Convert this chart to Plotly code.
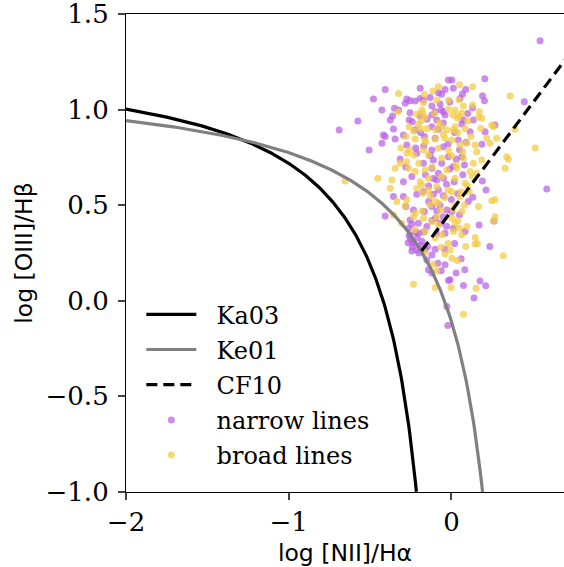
import numpy as np
import plotly.graph_objects as go

# ---------------- data ----------------
narrow_x = [0.545, 0.205, 0.448, 0.586, 0.236,
            0.029, 0.082, 0.176, 0.074, 0.211, 0.139, -0.008,
            -0.266, -0.243, -0.213, -0.145, -0.120, -0.100, -0.151, -0.083, -0.039, -0.141, -0.120, -0.063, -0.018, -0.028, -0.022,
            -0.690, -0.575, -0.479, -0.407, -0.427, -0.356, -0.376, -0.362, -0.350, -0.325, -0.284, -0.274, -0.254, -0.223, -0.192,
            -0.192, -0.254, -0.260, -0.240, -0.172, -0.131, -0.120, -0.080, -0.039, -0.018, -0.069, -0.063, -0.100, -0.049, -0.120,
            -0.090, -0.039, -0.080, -0.223, -0.295, -0.418, -0.192, -0.120,
            0.003, 0.012, 0.088, 0.068, 0.053, 0.191, 0.203, 0.074, 0.135, 0.064, 0.115, 0.207, 0.268,
            -0.506, -0.427, -0.346, -0.407, -0.274, -0.166, -0.315, -0.213, -0.120, -0.111, -0.172, -0.049, -0.018, -0.120, -0.080,
            -0.243, -0.295, -0.090, -0.049, -0.356, -0.295, -0.213, -0.172, -0.111, -0.049, -0.280, -0.233, -0.407, -0.166, -0.120,
            -0.254, -0.243, -0.203, -0.151, -0.100, -0.069, -0.028, -0.090, -0.039, -0.264, -0.203, -0.254,
            0.213, 0.190, 0.131, 0.104, 0.262, 0.170, 0.084, 0.043, 0.187, 0.064, 0.012, 0.017, 0.003, 0.012,
            -0.25, -0.23, -0.21, -0.19, -0.24, -0.18, -0.22, -0.20, -0.16, -0.26,
            -0.15, -0.05, 0.02, -0.10, -0.02, 0.05, -0.13, -0.06, 0.03, -0.16, -0.03, 0.07, -0.08, 0.00, -0.14,
            0.05, -0.05, -0.12, -0.17, 0.10, -0.01, 0.13, -0.22, -0.28, -0.19, 0.09, -0.07, 0.02, -0.04, 0.06,
            -0.11, -0.01, -0.17, 0.04, -0.09, -0.24, -0.03, 0.08, -0.14, -0.06]
narrow_y = [1.36, 1.162, 1.042, 0.585, 0.284,
            0.146, 0.163, 0.104, 0.080, 0.078, 0.015, 0.110,
            0.303, 0.261, 0.266, 0.284, 0.240, 0.270, 0.214, 0.197, 0.188, 0.162, 0.145, 0.157, 0.106, -0.030, -0.129,
            0.894, 0.941, 1.056, 1.106, 0.998, 0.899, 0.946, 0.967, 1.007, 0.998, 1.033, 1.056, 1.047, 1.045, 1.112,
            1.059, 0.984, 0.946, 0.937, 1.050, 1.063, 1.019, 1.089, 1.106, 1.155, 1.030, 0.998, 0.989, 0.989, 0.911,
            0.946, 0.972, 0.897, 0.894, 0.867, 0.867, 0.967, 0.972,
            1.155, 1.112, 1.106, 1.082, 1.059, 1.073, 1.047, 0.946, 0.946, 0.925, 0.885, 0.885, 0.920,
            0.789, 0.824, 0.847, 0.859, 0.815, 0.859, 0.742, 0.772, 0.789, 0.737, 0.720, 0.806, 0.754, 0.693, 0.667,
            0.650, 0.623, 0.632, 0.641, 0.545, 0.545, 0.558, 0.571, 0.558, 0.550, 0.493, 0.475, 0.444, 0.467, 0.493,
            0.423, 0.401, 0.406, 0.388, 0.432, 0.406, 0.475, 0.353, 0.353, 0.380, 0.353, 0.345,
            0.580, 0.627, 0.542, 0.519, 0.418, 0.397, 0.362, 0.841, 0.819, 0.754, 0.702, 0.623, 0.467, 0.380,
            0.32, 0.30, 0.33, 0.29, 0.28, 0.31, 0.36, 0.25, 0.27, 0.34,
            0.95, 0.93, 0.88, 0.85, 0.82, 0.79, 0.76, 0.72, 0.74, 0.66, 0.61, 0.66, 0.58, 0.53, 0.52,
            0.45, 0.44, 0.42, 0.36, 0.98, 1.04, 1.01, 0.80, 0.70, 0.88, 0.83, 0.50, 0.30, 0.27, 0.22,
            0.64, 0.69, 0.81, 0.56, 0.47, 0.31, 0.39, 0.71, 0.60, 1.08]

broad_x = [0.361, 0.515, 0.340, 0.350, 0.330, 0.248, 0.268, 0.166, 0.268, 0.258, 0.095, 0.146,
           0.088, 0.146, 0.160, 0.319, 0.003, 0.037, -0.008, 0.152, -0.002, 0.074,
           -0.233, -0.100, -0.111, -0.090, -0.039, -0.063, -0.162,
           -0.653, -0.452,
           -0.325, -0.329, -0.166, -0.114, -0.090, -0.172, -0.182, -0.178, -0.213, -0.162, -0.186, -0.203, -0.192, -0.233,
           -0.104, -0.076, -0.096, -0.059, -0.018, -0.018, -0.028,
           0.131, 0.047, 0.131, 0.074, 0.023, 0.009, 0.043, 0.064, 0.172, 0.166, 0.187, 0.037, 0.023, 0.084, 0.181, 0.248,
           0.258, 0.391, 0.012,
           -0.280, -0.223, -0.162, -0.100, -0.039, -0.260, -0.274, -0.233, -0.172, -0.141, -0.080, -0.059, -0.018, -0.315,
           -0.346, -0.274, -0.223, -0.162, -0.264, -0.192, -0.182, -0.141, -0.028, -0.366, -0.376, -0.335, -0.274, -0.284,
           -0.213, -0.178, -0.141, -0.090, -0.100, -0.131, -0.080, -0.063, -0.356, -0.223, -0.172, -0.120, -0.233, -0.080,
           -0.223, -0.162, -0.100, -0.059, -0.305,
           0.003, 0.053, 0.095, 0.146, 0.217, 0.279, 0.238, 0.156, 0.187, 0.135, 0.074, 0.033, 0.115, 0.023, 0.084, 0.156,
           0.003, 0.053, 0.023, 0.064, 0.003, 0.023, 0.012, 0.064,
           0.13, 0.10, 0.06, 0.08, 0.04, -0.02, 0.05,
           -0.05, 0.00, -0.12, -0.06, 0.04, -0.15, 0.10, -0.08, 0.05, -0.26, -0.31, -0.20, 0.12, -0.02, -0.18,
           -0.04, 0.07, -0.13, 0.01, -0.09, 0.11, -0.16, 0.03]
broad_y = [1.071, 0.800, 0.754, 0.740, 0.693, 0.524, 0.528, 0.493, 0.440, 0.418, 0.388, 0.331,
           0.284, 0.298, 0.298, 0.235, 0.223, 0.211, 0.266, 0.066, 0.069, -0.070,
           0.087, 0.069, 0.191, 0.157, 0.245, 0.280, 0.252,
           0.627, 0.641,
           1.085, 0.989, 1.080, 1.097, 1.050, 1.036, 0.998, 0.984, 0.977, 0.960, 0.942, 0.923, 0.902, 0.888,
           0.981, 0.932, 0.894, 0.911, 1.050, 1.002, 0.894,
           1.120, 1.050, 1.024, 1.019, 0.998, 0.972, 0.967, 0.981, 0.989, 0.960, 0.955, 0.955, 0.911, 0.902, 0.902, 0.920,
           0.911, 0.897, 0.894,
           0.859, 0.847, 0.841, 0.847, 0.850, 0.789, 0.772, 0.763, 0.789, 0.763, 0.798, 0.746, 0.789, 0.720,
           0.693, 0.728, 0.676, 0.684, 0.693, 0.623, 0.606, 0.641, 0.684, 0.632, 0.589, 0.519, 0.528, 0.496,
           0.589, 0.563, 0.580, 0.597, 0.519, 0.502, 0.510, 0.475, 0.449, 0.458, 0.432, 0.414, 0.440, 0.397,
           0.371, 0.362, 0.328, 0.345, 0.406,
           0.841, 0.815, 0.824, 0.815, 0.850, 0.850, 0.824, 0.780, 0.737, 0.720, 0.746, 0.693, 0.676, 0.641, 0.615, 0.667,
           0.571, 0.545, 0.502, 0.467, 0.432, 0.406, 0.362, 0.345,
           0.65, 0.60, 0.57, 0.50, 0.42, 0.30, 0.38,
           0.87, 0.76, 0.70, 0.65, 0.88, 0.90, 0.94, 1.12, 1.13, 0.91, 0.80, 0.72, 0.86, 0.58, 0.47,
           0.54, 0.78, 0.55, 0.48, 0.44, 0.57, 0.83, 0.71]

# demarcation lines
ka03_x = np.linspace(-2.0, -0.2153, 300)
ka03_y = 0.61 / (ka03_x - 0.05) + 1.3
ke01_x = np.linspace(-2.0, 0.1915, 300)
ke01_y = 0.61 / (ke01_x - 0.47) + 1.19
cf10_x = [-0.183, 0.70]
cf10_y = [0.262, 1.262]

x_ticks = [-2, -1, 0]
y_ticks = [-1.0, -0.5, 0.0, 0.5, 1.0, 1.5]

PURPLE = "rgba(185,95,228,0.72)"
YELLOW = "rgba(243,203,70,0.75)"
PAD = "\u00a0\u00a0"

fig = go.Figure()
fig.add_trace(go.Scatter(x=narrow_x, y=narrow_y, mode="markers", name=PAD + "narrow lines",
                         marker=dict(size=7, color=PURPLE, line=dict(width=0)),
                         legendrank=4, legendgroup="n"))
fig.add_trace(go.Scatter(x=broad_x, y=broad_y, mode="markers", name=PAD + "broad lines",
                         marker=dict(size=7, color=YELLOW, line=dict(width=0)),
                         legendrank=5, legendgroup="b"))
fig.add_trace(go.Scatter(x=ka03_x, y=ka03_y, mode="lines", name=PAD + "Ka03",
                         line=dict(color="black", width=3.2), legendrank=1, legendgroup="ka"))
fig.add_trace(go.Scatter(x=ke01_x, y=ke01_y, mode="lines", name=PAD + "Ke01",
                         line=dict(color="#808080", width=3.2), legendrank=2, legendgroup="ke"))
fig.add_trace(go.Scatter(x=cf10_x, y=cf10_y, mode="lines", name=PAD + "CF10",
                         line=dict(color="black", width=3.2, dash="11px,6px"), legendrank=3, legendgroup="cf"))

fig.update_layout(
    width=564, height=567,
    margin=dict(l=126, r=0, t=14, b=75),
    paper_bgcolor="white", plot_bgcolor="white",
    showlegend=True,
    legend=dict(x=0.035, y=0.418, xanchor="left", yanchor="top",
                font=dict(family="DejaVu Serif", size=24, color="black"),
                bgcolor="rgba(0,0,0,0)", tracegroupgap=1, itemsizing="trace",
                itemwidth=50),
)
fig.update_xaxes(range=[-2, 0.692], tickvals=x_ticks, ticks="outside", ticklen=7, tickwidth=1.5,
                 showline=True, linecolor="black", linewidth=1.2, mirror=True, showgrid=False, zeroline=False,
                 tickfont=dict(family="DejaVu Serif", size=26, color="black"),
                 title=dict(text="log [NII]/Hα", font=dict(family="DejaVu Sans", size=23.5, color="black"), standoff=8))
fig.update_yaxes(range=[-1.0005, 1.5005], tickvals=y_ticks, tickformat=".1f", ticks="outside", ticklen=7, tickwidth=1.5,
                 showline=True, linecolor="black", linewidth=1.2, showgrid=False, zeroline=False,
                 ticklabelstandoff=4, ticklabeloverflow="allow",
                 tickfont=dict(family="DejaVu Serif", size=26, color="black"),
                 title=dict(text="log [OIII]/Hβ", font=dict(family="DejaVu Sans", size=23.5, color="black"), standoff=6))

fig.write_html("out.html")
